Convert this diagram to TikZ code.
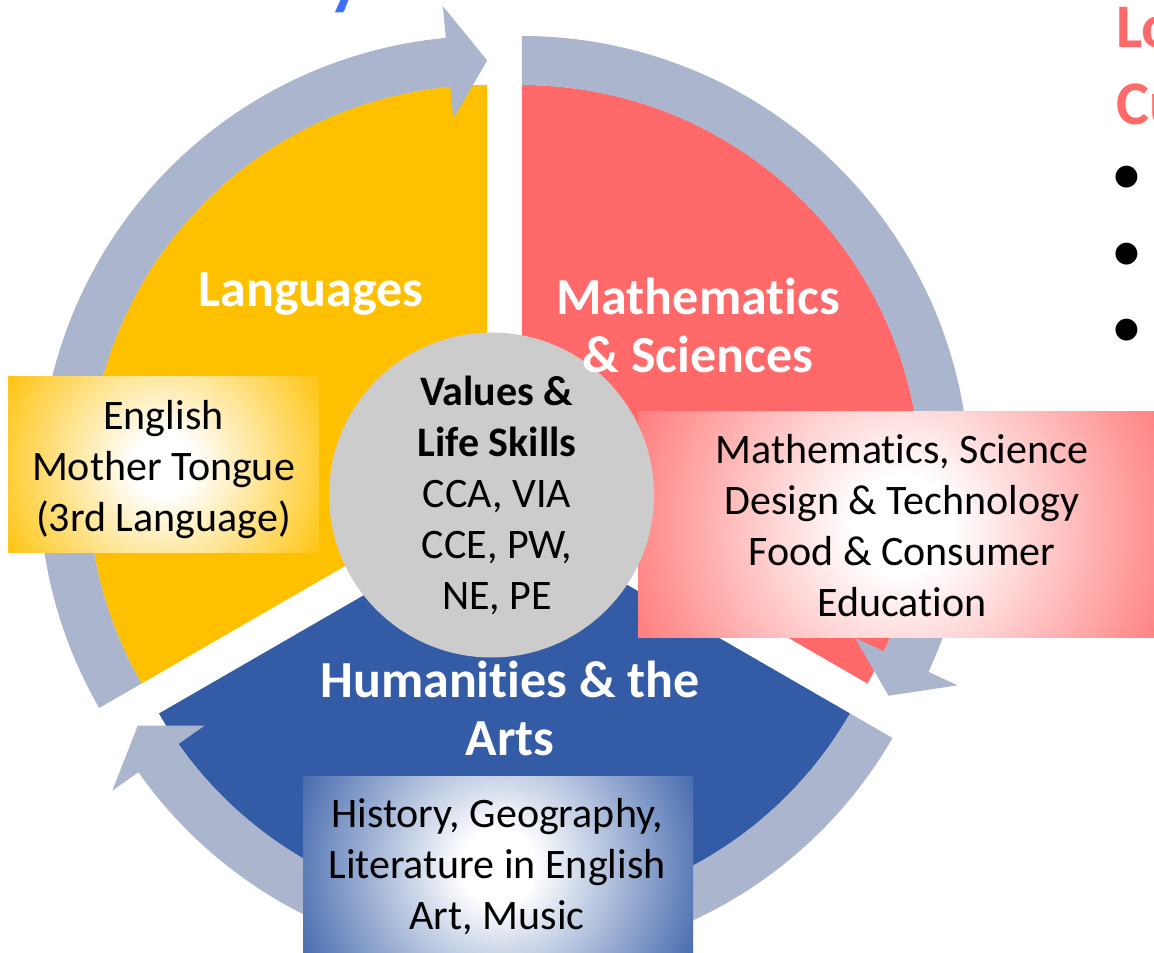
\documentclass[tikz,border=0pt]{standalone}
\usepackage{fontspec}
\setmainfont{Carlito}[Ligatures={NoCommon}]
\usetikzlibrary{calc}
\definecolor{cY}{RGB}{255,192,0}
\definecolor{cR}{RGB}{255,105,105}
\definecolor{cRb}{rgb}{1,0.44,0.44}
\definecolor{cB}{RGB}{52,92,166}
\definecolor{ringc}{RGB}{172,181,206}
\definecolor{cG}{RGB}{204,204,204}
\definecolor{titleblue}{RGB}{64,112,250}
\pgfdeclareradialshading{glowY}{\pgfpoint{0bp}{0bp}}{rgb(0bp)=(1,1,1); rgb(4bp)=(1,1,1); rgb(25bp)=(1,0.753,0); rgb(50bp)=(1,0.753,0)}
\pgfdeclareradialshading{glowR}{\pgfpoint{0bp}{0bp}}{rgb(0bp)=(1,1,1); rgb(4bp)=(1,1,1); rgb(25bp)=(1,0.44,0.44); rgb(50bp)=(1,0.44,0.44)}
\pgfdeclareradialshading{glowB}{\pgfpoint{0bp}{0bp}}{rgb(0bp)=(1,1,1); rgb(4bp)=(1,1,1); rgb(25bp)=(0.204,0.361,0.651); rgb(50bp)=(0.204,0.361,0.651)}
\newcommand{\ringarrow}[4]{%
  \fill[ringc] ($(#1)+(#2:448pt)$) arc[start angle=#2,end angle=#3,radius=448pt]
    -- ($(#1)+(#3:480pt)$) -- ($(#1)+(#4:423.5pt)$) -- ($(#1)+(#3:367pt)$)
    -- ($(#1)+(#3:399pt)$) arc[start angle=#3,end angle=#2,radius=399pt] -- cycle;}
\tikzset{
  lbl/.style={text=white, font=\bfseries\fontsize{52}{58}\selectfont, align=center, inner sep=0pt},
  boxtxt/.style={text=black, font=\fontsize{42}{51}\selectfont, align=center, inner sep=0pt},
  panel/.style={inner sep=0pt, draw=none},
  sidetxt/.style={text=cR, font=\bfseries\fontsize{62}{77}\selectfont, inner sep=0pt, anchor=base west},
  bul/.style={text=black, font=\fontsize{62}{77}\selectfont, inner sep=0pt},
}
\begin{document}
\begin{tikzpicture}[x=1pt,y=1pt]
\useasboundingbox (0,0) rectangle (1154,953);
\coordinate (C) at (504.5,459);
\coordinate (Y) at ($(C)+(150:20pt)$);
\coordinate (M) at ($(C)+(30:20pt)$);
\coordinate (B) at ($(C)+(270:20pt)$);
% sectors
\fill[cY] (Y) -- ($(Y)+(90:399pt)$) arc[start angle=90,end angle=210,radius=399pt] -- cycle;
\fill[cR] (M) -- ($(M)+(90:399pt)$) arc[start angle=90,end angle=-30,radius=399pt] -- cycle;
\fill[cB] (B) -- ($(B)+(210:399pt)$) arc[start angle=210,end angle=330,radius=399pt] -- cycle;
% cycle arrows
\ringarrow{Y}{210}{95.3}{90}
\ringarrow{M}{90}{-24.8}{-30}
\ringarrow{B}{-30}{-144.8}{-150}
% panels
\node[panel, fill=cY, minimum width=311pt, minimum height=176pt,
  path picture={\shade[shading=glowY] (path picture bounding box.center) circle (190pt);}] (lbox) at (163.5,488) {};
\node[panel, fill=cRb, minimum width=528pt, minimum height=226pt,
  path picture={\shade[shading=glowR] (path picture bounding box.center) circle (311pt);}] (rbox) at (902,428) {};
\node[panel, fill=cB, minimum width=390pt, minimum height=178pt,
  path picture={\shade[shading=glowB] (path picture bounding box.center) circle (233pt);}] (bbox) at (498,87) {};
% core circle
\node[circle, fill=cG, minimum size=325pt, inner sep=0pt] (core) at (491.5,458) {};
% sector labels
\node[lbl, anchor=base] (lang) at (311,646) {Languages};
\node[lbl] (math) at (698,627.5) {Mathematics\\\& Sciences};
\node[lbl] (hum) at (510,244.5) {Humanities \& the\\Arts};
% texts
\node[boxtxt] (coretxt) at (497,457.5) {\textbf{Values \&}\\\textbf{Life Skills}\\CCA, VIA\\CCE, PW,\\NE, PE};
\node[boxtxt] (ltxt) at (163.5,483.5) {English\\Mother Tongue\\(3rd Language)};
\node[boxtxt] (rtxt) at (902,427) {Mathematics, Science\\Design \& Technology\\Food \& Consumer\\Education};
\node[boxtxt] (btxt) at (497,86) {History, Geography,\\Literature in English\\Art, Music};
% right side, cut off
\node[sidetxt] (lo) at (1116,905) {Lo};
\node[sidetxt] (cu) at (1116,828) {Cu};
\node[bul] (b1) at (1127,773) {•};
\node[bul] (b2) at (1127,696) {•};
\node[bul] (b3) at (1127,620) {•};
% title fragment
\node[anchor=base west, text=titleblue, font=\bfseries\fontsize{72}{80}\selectfont, inner sep=0pt] (ttl) at (328,951) {y};
\end{tikzpicture}
\end{document}
